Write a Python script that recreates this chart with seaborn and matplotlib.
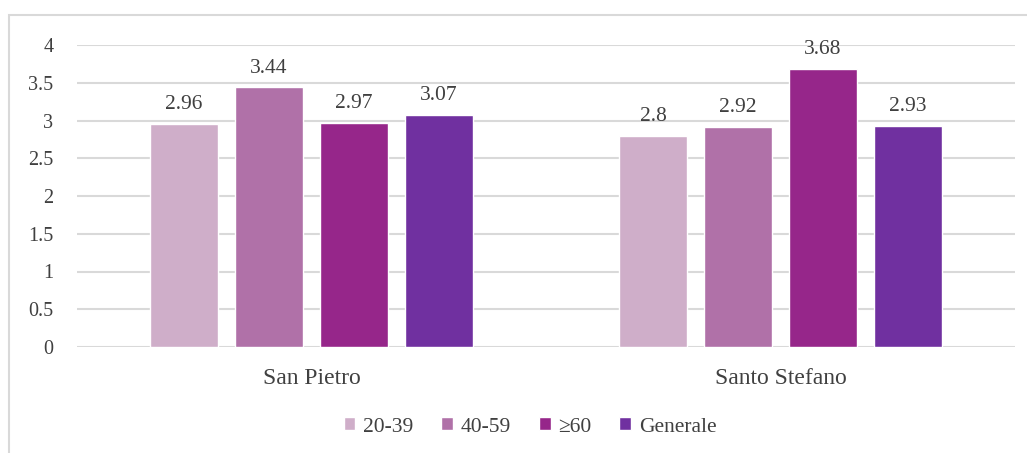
import matplotlib
matplotlib.use("Agg")
import matplotlib.pyplot as plt
from matplotlib.patches import Rectangle
import seaborn as sns
import pandas as pd

# Data
locations = ["San Pietro", "Santo Stefano"]
age_groups = ["20-39", "40-59", "≥60", "Generale"]
san_pietro = [2.96, 3.44, 2.97, 3.07]
santo_stefano = [2.80, 2.92, 3.68, 2.93]
y_ticks = [0, 0.5, 1, 1.5, 2, 2.5, 3, 3.5, 4]
colors = ["#CFAEC9", "#B071A8", "#96268A", "#7030A0"]

rows = []
for loc, vals in zip(locations, [san_pietro, santo_stefano]):
    for g, v in zip(age_groups, vals):
        rows.append({"Luogo": loc, "Età": g, "Valore": v})
df = pd.DataFrame(rows)

sns.set_theme(style="white")
plt.rcParams["font.family"] = ["Liberation Serif", "DejaVu Serif"]
text_color = "#404040"

fig = plt.figure(figsize=(10.27, 4.53), dpi=100)
ax = fig.add_axes([77 / 1027, 1 - 347 / 453, (1015 - 77) / 1027, (347 - 45) / 453])

sns.barplot(data=df, x="Luogo", y="Valore", hue="Età", order=locations,
            hue_order=age_groups, palette=colors, width=0.724, gap=0.2,
            saturation=1, ax=ax, legend=True)

for cont in ax.containers:
    ax.bar_label(cont, fmt="%g", padding=7, fontsize=15.5, color=text_color)

ax.set_ylim(0, 4)
ax.set_xlim(-0.5, 1.5)
ax.set_yticks(y_ticks)
ax.set_yticklabels([f"{t:g}" for t in y_ticks])
ax.yaxis.grid(True, color="#D9D9D9", linewidth=1.5)
ax.set_axisbelow(True)
for s in ax.spines.values():
    s.set_visible(False)
ax.tick_params(axis="y", length=0, labelsize=14.5, colors=text_color, pad=17)
ax.tick_params(axis="x", length=0, labelsize=17, colors=text_color, pad=15)
ax.set_xlabel("")
ax.set_ylabel("")

handles, labels = ax.get_legend_handles_labels()
ax.get_legend().remove()
fig.legend(handles, labels, loc="center", bbox_to_anchor=(530 / 1027, 1 - 427 / 453),
           ncol=4, frameon=False, fontsize=15.5, handlelength=0.55, handleheight=0.55,
           handletextpad=0.35, columnspacing=1.3, labelcolor=text_color)

# Outer chart frame
fig.patches.append(Rectangle((9 / 1027, -0.05), 1.1, 1 - 15 / 453 + 0.05,
                             transform=fig.transFigure, fill=False,
                             edgecolor="#D9D9D9", linewidth=1.5))

fig.savefig("out.png", dpi=100)
